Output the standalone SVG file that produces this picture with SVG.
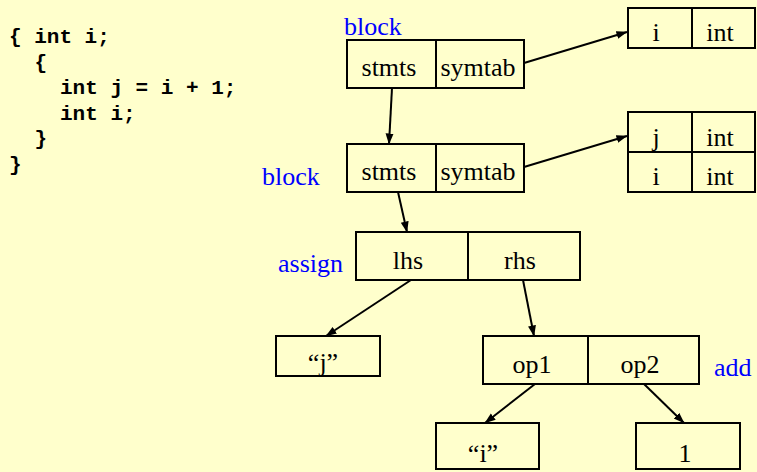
<svg xmlns="http://www.w3.org/2000/svg" width="757" height="472" viewBox="0 0 757 472">
  <style>
    .box { fill: none; stroke: #000; stroke-width: 2; }
    .lbl { font-family: "Liberation Serif", "Times New Roman", serif; font-size: 26px; fill: #000; text-anchor: middle; }
    .kind { font-family: "Liberation Serif", "Times New Roman", serif; font-size: 26px; fill: #0000ff; }
    .code { font-family: "Liberation Mono", "Courier New", monospace; font-size: 21px; font-weight: bold; fill: #000; }
    .edge { fill: none; stroke: #000; stroke-width: 2; marker-end: url(#head); }
  </style>
  <defs>
    <marker id="head" markerUnits="userSpaceOnUse" markerWidth="11" markerHeight="9" refX="10.5" refY="4" orient="auto">
      <path d="M0,0 L11,4 L0,8 z" fill="#000"/>
    </marker>
  </defs>

  <rect width="757" height="472" fill="#ffffcc"/>

  <!-- source program -->
  <g id="source">
    <text class="code" x="9" y="43">{ int i;</text>
    <text class="code" x="34.5" y="68.5">{</text>
    <text class="code" x="60" y="94">int j = i + 1;</text>
    <text class="code" x="60" y="119.5">int i;</text>
    <text class="code" x="34.5" y="145">}</text>
    <text class="code" x="9" y="170.5">}</text>
  </g>

  <!-- outer block -->
  <g id="block1">
    <text class="kind" x="344" y="35">block</text>
    <rect class="box" x="347" y="40" width="177" height="48"/>
    <line class="box" x1="436" y1="40" x2="436" y2="88"/>
    <text class="lbl" x="389" y="76">stmts</text>
    <text class="lbl" x="478" y="76">symtab</text>
  </g>

  <!-- outer symbol table -->
  <g id="symtab1">
    <rect class="box" x="628" y="8" width="127" height="40"/>
    <line class="box" x1="692" y1="8" x2="692" y2="48"/>
    <text class="lbl" x="656" y="41">i</text>
    <text class="lbl" x="720" y="41">int</text>
  </g>

  <!-- inner block -->
  <g id="block2">
    <text class="kind" x="262" y="185">block</text>
    <rect class="box" x="347" y="144" width="177" height="48"/>
    <line class="box" x1="436" y1="144" x2="436" y2="192"/>
    <text class="lbl" x="389" y="180">stmts</text>
    <text class="lbl" x="478" y="180">symtab</text>
  </g>

  <!-- inner symbol table -->
  <g id="symtab2">
    <rect class="box" x="628" y="112" width="127" height="80"/>
    <line class="box" x1="692" y1="112" x2="692" y2="192"/>
    <line class="box" x1="628" y1="152" x2="755" y2="152"/>
    <text class="lbl" x="656" y="146">j</text>
    <text class="lbl" x="720" y="146">int</text>
    <text class="lbl" x="656" y="185">i</text>
    <text class="lbl" x="720" y="185">int</text>
  </g>

  <!-- assignment -->
  <g id="assign">
    <text class="kind" x="278" y="272">assign</text>
    <rect class="box" x="356" y="232" width="224" height="48"/>
    <line class="box" x1="468" y1="232" x2="468" y2="280"/>
    <text class="lbl" x="408" y="269">lhs</text>
    <text class="lbl" x="520" y="269">rhs</text>
  </g>

  <!-- target identifier -->
  <g id="ident-j">
    <rect class="box" x="276" y="336" width="104" height="40"/>
    <text class="lbl" x="323" y="371">“j”</text>
  </g>

  <!-- addition -->
  <g id="add">
    <rect class="box" x="483" y="336" width="216" height="48"/>
    <line class="box" x1="588" y1="336" x2="588" y2="384"/>
    <text class="lbl" x="532" y="373">op1</text>
    <text class="lbl" x="640" y="373">op2</text>
    <text class="kind" x="714" y="376">add</text>
  </g>

  <!-- operand identifier -->
  <g id="ident-i">
    <rect class="box" x="436" y="423" width="103" height="46"/>
    <text class="lbl" x="483" y="462">“i”</text>
  </g>

  <!-- constant -->
  <g id="const-1">
    <rect class="box" x="636" y="423" width="104" height="46"/>
    <text class="lbl" x="685" y="462">1</text>
  </g>

  <!-- pointers -->
  <g id="connectors">
    <line class="edge" x1="524" y1="63" x2="627" y2="32"/>
    <line class="edge" x1="392" y1="88" x2="389" y2="144"/>
    <line class="edge" x1="524" y1="167" x2="627" y2="136"/>
    <line class="edge" x1="398" y1="192" x2="407" y2="232"/>
    <line class="edge" x1="411" y1="280" x2="326" y2="336"/>
    <line class="edge" x1="523" y1="280" x2="534" y2="336"/>
    <line class="edge" x1="535" y1="384" x2="485" y2="423"/>
    <line class="edge" x1="644" y1="384" x2="684" y2="423"/>
  </g>
</svg>
